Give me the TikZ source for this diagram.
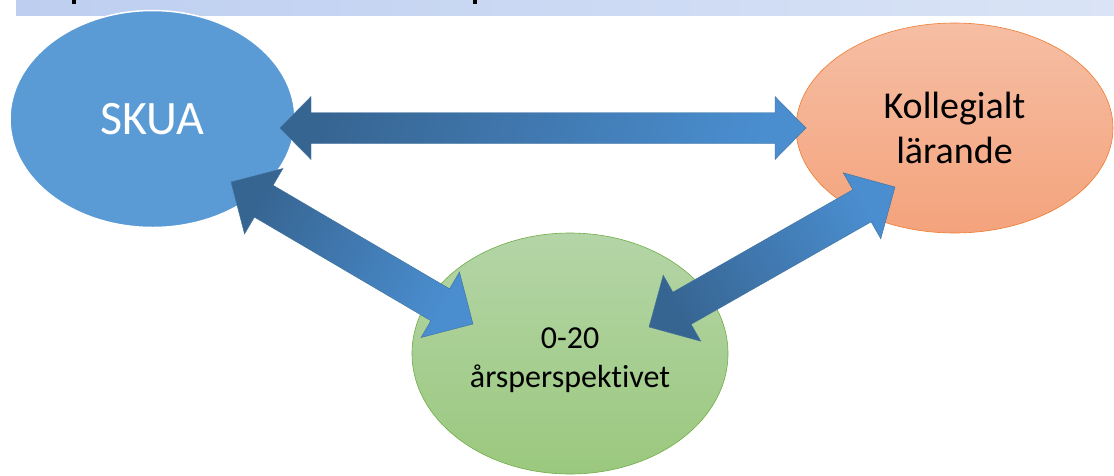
\documentclass[tikz,border=0pt]{standalone}
\usepackage{fontspec}
\setmainfont[Ligatures=NoCommon]{Carlito}
\usetikzlibrary{shapes.geometric,calc}

\definecolor{skuablue}{HTML}{5B9BD5}
\definecolor{orangetop}{HTML}{F6BEA4}
\definecolor{orangebot}{HTML}{F4A37C}
\definecolor{orangeedge}{HTML}{ED7D31}
\definecolor{greentop}{HTML}{B4D5A7}
\definecolor{greenbot}{HTML}{9BC87E}
\definecolor{greenedge}{HTML}{70AD47}
\definecolor{arrowdark}{HTML}{376592}
\definecolor{arrowlight}{HTML}{4A8ED0}
\definecolor{arrowedge}{HTML}{41719C}
\definecolor{bannerl}{HTML}{BDCEF0}
\definecolor{bannerr}{HTML}{DAE4F6}

% double block arrow: [style] start, end, head length, head half width, shaft half width
\newcommand{\blockarrow}[6][]{%
  \shade[arr,#1] (#2) -- ($(#2)!#4!(#3)!#5!90:(#3)$) -- ($(#2)!#4!(#3)!#6!90:(#3)$)
    -- ($(#3)!#4!(#2)!#6!-90:(#2)$) -- ($(#3)!#4!(#2)!#5!-90:(#2)$) -- (#3)
    -- ($(#3)!#4!(#2)!#5!90:(#2)$) -- ($(#3)!#4!(#2)!#6!90:(#2)$)
    -- ($(#2)!#4!(#3)!#6!-90:(#3)$) -- ($(#2)!#4!(#3)!#5!-90:(#3)$) -- cycle;}

\begin{document}
\begin{tikzpicture}[x=1pt,y=-1pt,
    bubble/.style={ellipse,inner sep=0pt,align=center},
    arr/.style={draw=arrowedge,line width=.4pt,top color=arrowdark,bottom color=arrowlight}]
  \useasboundingbox (0,0) rectangle (1114,475);

  % banner
  \shade[left color=bannerl,right color=bannerr] (16,0) rectangle (1114,15);
  \fill (71.5,0) rectangle (75.5,3.5);
  \fill (473,0) rectangle (477,3.5);

  \node[bubble,fill=skuablue,draw=white,line width=1.5pt,minimum width=285pt,
    minimum height=217pt,text=white,font=\fontsize{48}{58}\selectfont]
    (skua) at (152.5,119) {SKUA};
  \node[bubble,draw=orangeedge,line width=.6pt,top color=orangetop,bottom color=orangebot,
    minimum width=317pt,minimum height=210pt,font=\fontsize{38}{45}\selectfont]
    (kol) at (954.5,128) {Kollegialt\\lärande};
  \node[bubble,draw=greenedge,line width=.6pt,top color=greentop,bottom color=greenbot,
    minimum width=316pt,minimum height=241pt,font=\fontsize{32}{39}\selectfont]
    (aar) at (570,353.5) {\rule{0pt}{34pt}0-20\\årsperspektivet};

  \coordinate (skuaR) at (280,128);
  \coordinate (kolL) at (806,128);
  \coordinate (skuaB) at (231,182);
  \coordinate (aarL) at (473,324);
  \coordinate (aarR) at (649,327);
  \coordinate (kolB) at (895,187);

  \blockarrow[shading angle=75]{skuaR}{kolL}{31pt}{31.5pt}{15.5pt}
  \blockarrow[shading angle=60]{skuaB}{aarL}{38pt}{38pt}{18.5pt}
  \blockarrow[shading angle=120]{aarR}{kolB}{38pt}{38pt}{18.5pt}
\end{tikzpicture}
\end{document}
